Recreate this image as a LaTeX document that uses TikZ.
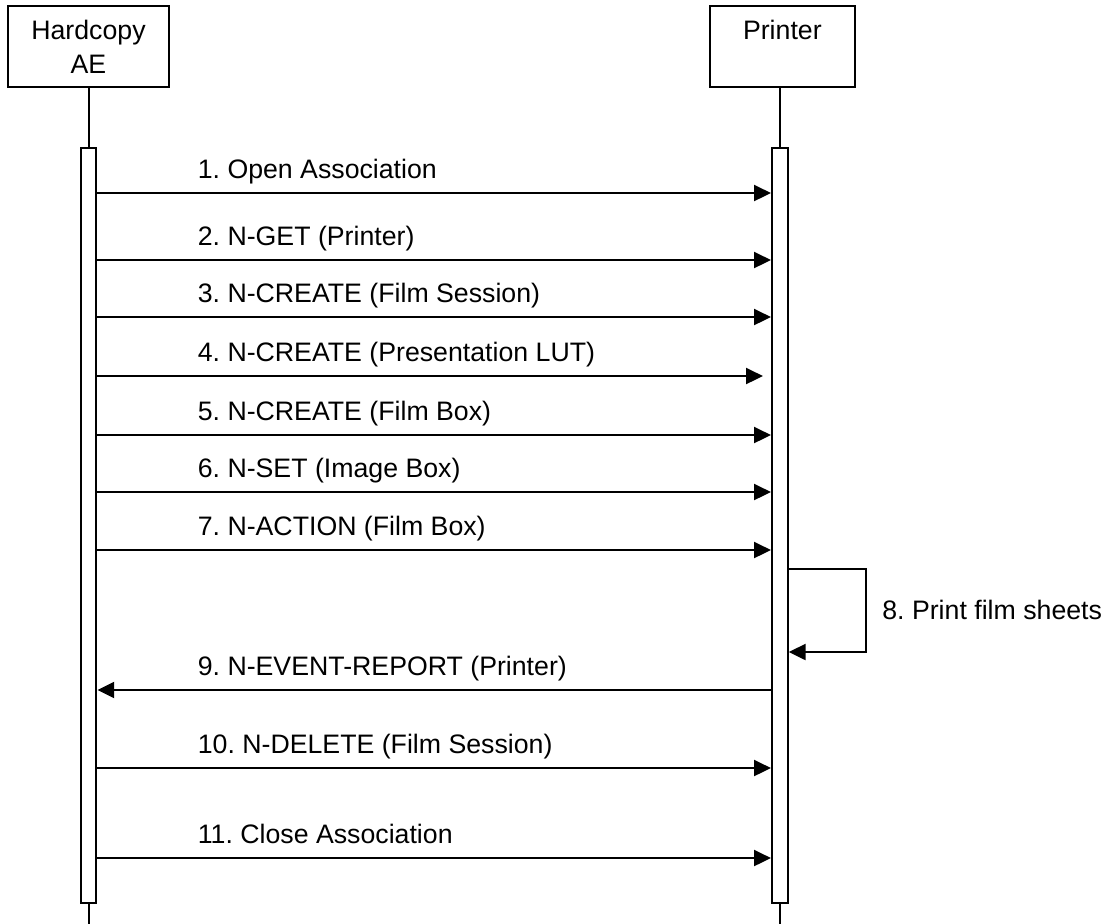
\documentclass[tikz,border=0pt]{standalone}
\usepackage{fontspec}
\setmainfont{Liberation Sans}
\frenchspacing
\usetikzlibrary{positioning, arrows.meta}
\tikzset{
>={Triangle[length=0.334cm, width=0.32cm]}, % filled heads of the messages
every node/.style={font=\fontsize{15.2pt}{19.4pt}\selectfont},
party/.style={draw, line width=0.04cm, minimum height=1.62cm, align=center, inner sep=0pt}, % boxes on top
bar/.style={draw, line width=0.04cm, minimum width=0.32cm, minimum height=15.1cm, inner sep=0pt}, % activation bars
life/.style={line width=0.04cm}, % lifelines
msg/.style={->, line width=0.04cm}, % messages
lbl/.style={anchor=base west, inner sep=0pt},
}

\begin{document}
\begin{tikzpicture}[x=0.02cm, y=-0.02cm]
\useasboundingbox (0,0) rectangle (1107,924);
\node[party, minimum width=3.22cm] (ae) at (88.5,46.5) {Hardcopy\\AE};
\node[party, minimum width=2.9cm, right=10.78cm of ae] (prn) {Printer\\\phantom{AE}};
\node[bar, below=1.18cm of ae] (aebar) {};
\node[bar, below=1.18cm of prn, xshift=-0.05cm] (prnbar) {};
\coordinate (aeend) at (aebar.south |- 0,924);
\coordinate (prnend) at (prnbar.south |- 0,924);
\draw[life] (aebar.north |- ae.south) -- (aebar) (aebar) -- (aeend);
\draw[life] (prnbar.north |- prn.south) -- (prnbar) (prnbar) -- (prnend);
% messages from the hardcopy AE to the printer
\foreach \y/\n/\txt/\s in {193/1/Open Association/0, 260/2/N-GET (Printer)/0,
  317/3/N-CREATE (Film Session)/0, 376/4/N-CREATE (Presentation LUT)/8,
  435/5/N-CREATE (Film Box)/0, 492/6/N-SET (Image Box)/0,
  550/7/N-ACTION (Film Box)/0, 768/10/N-DELETE (Film Session)/0,
  858/11/Close Association/0}{
  \coordinate (m\n) at (0,\y);
  \draw[msg, shorten >=\s*0.02cm] (aebar.east |- m\n) -- (prnbar.west |- m\n);
  \node[lbl] (t\n) at ([xshift=2cm, yshift=0.3cm]aebar.east |- m\n) {\n. \txt};
}
% printing and the report back
\coordinate (m8a) at (866,569);
\coordinate (m8b) at (866,652);
\draw[msg] (prnbar.east |- m8a) -- (m8a) -- (m8b) -- (prnbar.east |- m8b);
\node[anchor=west, inner sep=0pt] (t8) at (882,610) {8. Print film sheets};
\coordinate (m9) at (0,690);
\draw[msg] (prnbar.west |- m9) -- (aebar.east |- m9);
\node[lbl] (t9) at ([xshift=2cm, yshift=0.3cm]aebar.east |- m9) {9. N-EVENT-REPORT (Printer)};
\end{tikzpicture}
\end{document}
